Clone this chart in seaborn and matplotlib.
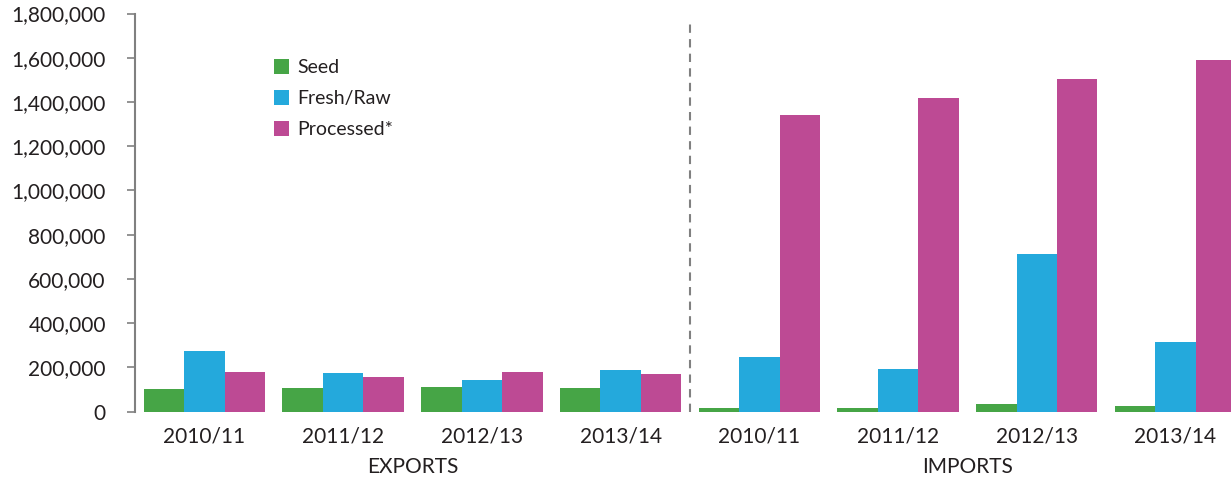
import matplotlib
matplotlib.use("Agg")
import matplotlib.pyplot as plt
import seaborn as sns
import pandas as pd
from matplotlib.ticker import FuncFormatter
from matplotlib.patches import Patch

years = ["2010/11", "2011/12", "2012/13", "2013/14"]
sections = ["EXPORTS", "IMPORTS"]
series = ["Seed", "Fresh/Raw", "Processed*"]

exports_seed = [102000, 106000, 111000, 108000]
exports_fresh = [274000, 175000, 142000, 186000]
exports_processed = [180000, 157000, 180000, 170000]

imports_seed = [18000, 18000, 33000, 24000]
imports_fresh = [245000, 194000, 711000, 313000]
imports_processed = [1341000, 1419000, 1502000, 1588000]

colors = ["#46A546", "#24A9DC", "#BD4A94"]

rows = []
for sec, vals in [("EXPORTS", [exports_seed, exports_fresh, exports_processed]),
                  ("IMPORTS", [imports_seed, imports_fresh, imports_processed])]:
    for s, v in zip(series, vals):
        for y, val in zip(years, v):
            rows.append({"group": f"{sec} {y}", "series": s, "value": val})
df = pd.DataFrame(rows)
order = [f"{sec} {y}" for sec in sections for y in years]

sns.set_style("white")
plt.rcParams["font.family"] = ["Lato", "DejaVu Sans"]

fig = plt.figure(figsize=(12.31, 4.82), dpi=100)
ax = fig.add_axes([135 / 1231, (482 - 411.5) / 482, 1 - 135 / 1231, (411.5 - 13.5) / 482])

sns.barplot(data=df, x="group", y="value", hue="series", order=order,
            hue_order=series, palette=colors, width=0.875, gap=0,
            linewidth=0, saturation=1, ax=ax, legend=False)

ax.set_xlim(-0.5, 7.4)
ax.set_ylim(0, 1800000)
ax.set_yticks(range(0, 1800001, 200000))
ax.yaxis.set_major_formatter(FuncFormatter(lambda v, p: f"{int(v):,}"))
ax.set_xticks(range(8))
ax.set_xticklabels(years * 2)
ax.tick_params(axis="y", length=6, width=1.2, color="#808080", labelsize=15,
               labelcolor="#231F20", pad=15, left=True)
ax.tick_params(axis="x", length=0, labelsize=15, labelcolor="#231F20", pad=11)
ax.set_xlabel("")
ax.set_ylabel("")

for side in ["top", "right", "bottom"]:
    ax.spines[side].set_visible(False)
ax.spines["left"].set_color("#808080")
ax.spines["left"].set_linewidth(1.5)

ax.axvline(3.5, ymin=0.0, ymax=0.985, color="#808080", linestyle=(0, (4, 3)), linewidth=1.5)

ax.text(1.5, -0.14, "EXPORTS", transform=ax.get_xaxis_transform(), ha="center", va="center",
        fontsize=15, color="#231F20")
ax.text(5.5, -0.14, "IMPORTS", transform=ax.get_xaxis_transform(), ha="center", va="center",
        fontsize=15, color="#231F20")

handles = [Patch(facecolor=c, edgecolor="none") for c in colors]
ax.legend(handles, series, loc="upper left", bbox_to_anchor=(0.12, 0.905), frameon=False,
          fontsize=14, handlelength=0.78, handleheight=0.78, handletextpad=0.4,
          labelspacing=0.72, borderaxespad=0, labelcolor="#231F20")

fig.savefig("out.png", dpi=100)
